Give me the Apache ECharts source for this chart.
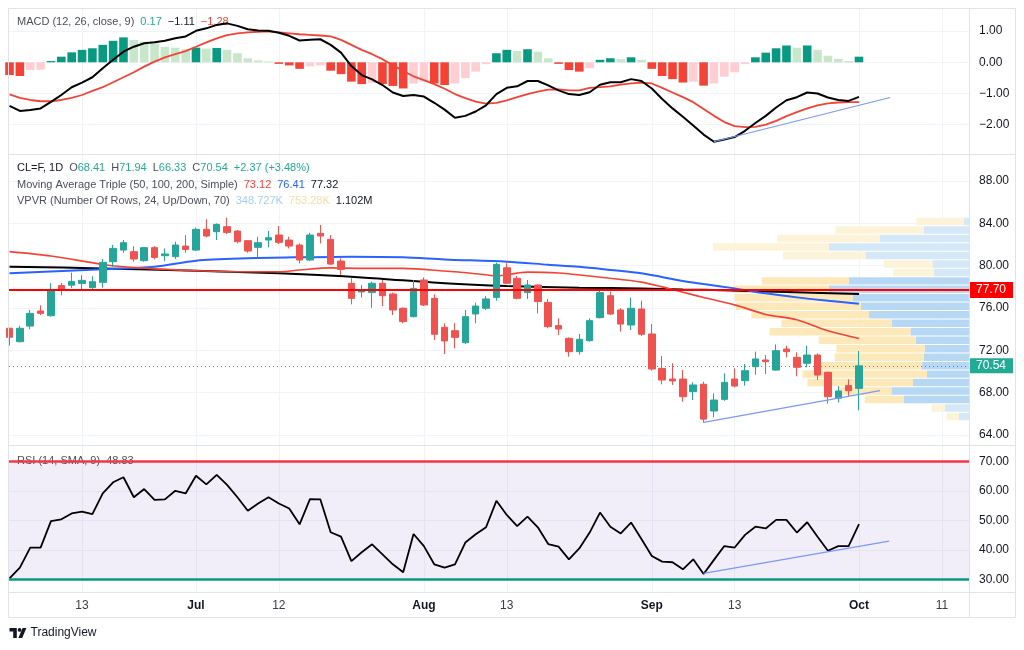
<!DOCTYPE html>
<html><head><meta charset="utf-8">
<script src="https://cdn.jsdelivr.net/npm/echarts@6/dist/echarts.min.js"></script>
<style>html,body{margin:0;padding:0;background:#fff}#c{width:1024px;height:650px}</style>
</head><body><div id="c"></div>
<script>
// ---------------- DATA ----------------
const dates = ['06-04','06-05','06-06','06-07','06-10','06-11','06-12','06-13','06-14','06-17','06-18','06-20','06-21','06-24','06-25','06-26','06-27','06-28',
'07-01','07-02','07-03','07-05','07-08','07-09','07-10','07-11','07-12','07-15','07-16','07-17','07-18','07-19','07-22','07-23','07-24','07-25','07-26','07-29','07-30','07-31',
'08-01','08-02','08-05','08-06','08-07','08-08','08-09','08-12','08-13','08-14','08-15','08-16','08-19','08-20','08-21','08-22','08-23','08-26','08-27','08-28','08-29','08-30',
'09-03','09-04','09-05','09-06','09-09','09-10','09-11','09-12','09-13','09-16','09-17','09-18','09-19','09-20','09-23','09-24','09-25','09-26','09-27','09-30','10-01'];
// [open, close, low, high]
const ohlc = [
[74.09,73.24,72.45,74.15],[72.82,74.09,72.76,74.34],[74.30,75.50,73.99,75.82],[75.72,75.50,75.34,76.26],[75.28,77.77,75.19,78.34],
[78.13,77.74,77.20,78.38],[78.16,78.52,77.90,79.34],[78.33,78.62,77.80,79.10],[77.93,78.49,77.75,79.00],[78.43,80.32,77.92,80.63],
[80.38,81.64,79.91,81.96],[81.48,82.18,81.23,82.43],[81.33,80.63,80.38,81.86],[80.48,81.71,80.38,81.74],[81.71,80.79,80.60,81.86],
[80.95,81.11,80.44,81.64],[80.86,81.96,80.63,82.27],[81.86,81.54,81.23,82.90],[81.48,83.44,81.39,83.60],[83.44,82.81,82.68,84.38],
[83.22,83.91,82.43,84.00],[83.69,83.15,83.00,84.54],[83.28,82.27,82.11,83.38],[82.37,81.39,81.23,82.43],[81.74,82.18,80.76,82.74],
[82.43,82.65,81.74,83.28],[82.90,82.21,82.05,83.75],[82.43,81.86,81.64,82.74],[81.96,80.54,80.22,82.11],[80.54,82.90,80.48,83.12],
[83.06,82.81,82.11,83.85],[82.49,80.16,80.07,82.90],[80.44,79.65,79.12,80.70],[78.34,76.92,76.35,78.81],[77.52,77.64,77.01,78.18],
[77.46,78.34,76.03,78.49],[78.34,77.17,76.19,78.65],[77.33,75.82,75.34,77.46],[75.98,74.72,74.56,76.07],[75.19,77.86,75.12,78.65],
[78.65,76.29,76.19,78.90],[76.92,73.52,72.98,77.30],[74.18,72.89,71.66,74.56],[73.86,73.23,72.19,74.56],[72.73,75.19,72.60,75.82],
[75.44,76.19,74.56,76.51],[75.98,76.86,75.82,77.14],[77.01,80.13,76.70,80.29],[79.81,78.34,78.28,80.23],[78.81,76.92,76.82,79.03],
[77.46,78.18,76.86,78.65],[78.18,76.61,75.50,78.24],[76.54,74.24,74.09,76.86],[74.34,74.02,73.45,75.03],[73.14,71.88,71.41,73.23],
[71.88,73.05,71.60,73.55],[72.92,74.81,72.82,75.03],[75.09,77.46,75.03,77.62],[77.17,75.44,75.34,77.55],[75.82,74.49,73.77,75.98],
[74.40,75.98,73.93,76.98],[75.91,73.52,73.36,76.70],[73.55,70.24,70.08,74.49],[70.30,69.20,68.79,71.47],[69.29,69.11,68.73,70.78],
[69.29,67.62,67.15,70.14],[68.10,68.73,67.31,68.98],[68.80,65.50,65.15,69.04],[66.27,67.31,65.67,67.94],[67.37,68.98,67.24,69.83],
[69.29,68.63,68.50,70.30],[69.14,70.08,68.67,70.71],[70.46,71.19,69.70,71.88],[71.09,70.93,69.77,71.56],[70.14,71.97,70.08,72.57],
[72.13,71.88,71.34,72.44],[71.34,70.40,69.55,71.82],[70.78,71.56,70.40,72.44],[71.56,69.67,69.20,71.72],[69.93,67.62,66.95,69.99],
[67.47,68.16,67.08,68.63],[68.67,68.19,67.62,69.26],[68.41,70.54,66.33,71.94]];

// moving averages, sampled [bar index, value]
const ma50 = [[0,81.33],[4,80.92],[9,80.12],[11,79.9],[14,79.7],[18,79.53],[23,79.43],[26,79.43],[28,79.6],[31,79.8],[34,79.75],[38,79.75],[42,79.5],[45,79.25],[47,79.05],[49,79.3],[50,79.4],[53,79.32],[56,79.03],[59,78.7],[61,78.45],[63,78.0],[65,77.5],[67,77.0],[70,76.3],[73,75.4],[76,74.9],[79,73.85],[82,73.12]];
const ma100 = [[0,79.28],[9,79.66],[14,79.91],[18,80.48],[23,80.70],[28,80.80],[33,80.86],[38,80.8],[42,80.6],[48,80.38],[52,80.1],[55,79.9],[58,79.6],[61,79.28],[65,78.55],[67,78.27],[70,77.86],[73,77.39],[76,77.01],[79,76.7],[82,76.41]];
const ma200 = [[0,79.91],[9,79.75],[18,79.53],[26,79.28],[34,78.9],[42,78.34],[48,78.08],[55,77.93],[61,77.85],[65,77.75],[67,77.72],[74,77.55],[82,77.32]];
const hLevel = 77.70;
const lastClose = 70.54;
const trendPrice = [[67,65.2],[84.03,68.19]];

// volume profile (24 rows, top -> bottom), thousands
const vpTop = 84.58, vpBottom = 65.35;
const vpUp   = [5.3,45.3,89.3,140,103.7,36.7,35.3,120.3,140.3,116.3,108,100,77,58.6,53.3,44.3,45.3,47,42,56,77.6,65,24.3,10];
const vpDown = [47.3,88.3,102.7,116,82.3,48.7,40.7,87,96,118,125,117.6,110.6,140.7,97,88.3,89,100.6,124.6,105.6,53.4,39.3,13.3,12.6];
const vpValueArea = [0,0,0,0,0,0,0,1,1,1,1,1,1,1,1,1,1,1,1,1,1,1,0,0];

// MACD
const macdLine = [-1.40,-1.56,-1.53,-1.48,-1.27,-1.05,-0.80,-0.65,-0.48,-0.19,0.08,0.34,0.50,0.61,0.64,0.69,0.77,0.83,1.01,1.09,
1.20,1.25,1.17,1.06,1.02,1.01,0.95,0.85,0.70,0.72,0.74,0.56,0.31,-0.12,-0.41,-0.55,-0.73,-0.97,-1.08,-1.05,
-1.10,-1.30,-1.52,-1.78,-1.72,-1.58,-1.38,-1.02,-0.82,-0.77,-0.60,-0.60,-0.74,-0.90,-1.02,-1.05,-0.96,-0.72,-0.64,-0.64,
-0.54,-0.60,-0.84,-1.18,-1.48,-1.75,-2.03,-2.32,-2.55,-2.48,-2.40,-2.20,-1.95,-1.72,-1.45,-1.22,-1.12,-0.97,-1.00,-1.13,
-1.21,-1.24,-1.11];
const signalLine = [-1.03,-1.14,-1.21,-1.25,-1.25,-1.21,-1.14,-1.05,-0.92,-0.80,-0.64,-0.48,-0.32,-0.14,0.02,0.16,0.26,0.36,0.50,0.64,
0.77,0.87,0.93,0.96,0.98,0.99,0.96,0.93,0.90,0.88,0.86,0.83,0.72,0.56,0.40,0.26,0.10,-0.09,-0.28,-0.45,
-0.57,-0.70,-0.85,-1.02,-1.15,-1.26,-1.33,-1.30,-1.22,-1.12,-1.02,-0.94,-0.88,-0.87,-0.90,-0.90,-0.82,-0.80,-0.77,-0.72,
-0.68,-0.65,-0.68,-0.82,-0.97,-1.12,-1.28,-1.50,-1.72,-1.92,-2.05,-2.08,-2.07,-2.00,-1.88,-1.73,-1.60,-1.48,-1.38,-1.32,
-1.29,-1.28,-1.28];
const macdHist = [-0.41,-0.44,-0.25,-0.24,0.04,0.18,0.32,0.40,0.45,0.56,0.69,0.80,0.72,0.66,0.61,0.50,0.47,0.42,0.47,0.44,
0.46,0.40,0.29,0.13,0.06,0.03,-0.05,-0.10,-0.21,-0.13,-0.10,-0.27,-0.38,-0.62,-0.70,-0.66,-0.70,-0.76,-0.84,-0.68,
-0.62,-0.68,-0.73,-0.68,-0.51,-0.30,-0.06,0.29,0.40,0.36,0.42,0.34,0.13,-0.05,-0.25,-0.30,-0.19,0.08,0.13,0.10,
0.16,0.08,-0.21,-0.44,-0.54,-0.65,-0.62,-0.75,-0.68,-0.46,-0.32,-0.06,0.16,0.31,0.45,0.54,0.47,0.54,0.40,0.21,
0.11,0.04,0.18];
const trendMacd = [[68,-2.55],[85.0,-1.13]];

// RSI
const rsi = [30.3,34.0,40.8,40.8,49.8,50.4,52.4,53.0,52.2,59.2,63.0,64.7,57.9,60.7,57.0,57.2,60.1,59.2,65.2,62.3,
65.5,62.1,57.9,53.3,55.8,57.9,55.8,54.1,48.7,57.3,57.2,46.0,44.5,36.2,39.2,41.9,38.5,35.1,32.4,45.4,
41.3,35.1,34.0,35.1,42.5,45.3,47.7,56.7,51.9,48.1,51.3,47.7,42.0,41.1,36.8,40.5,45.9,52.7,47.9,45.6,
49.3,43.7,37.9,36.0,35.8,33.4,36.8,31.8,36.6,41.3,40.8,45.1,47.9,47.3,50.2,50.2,45.9,49.4,44.5,39.7,
41.3,41.3,48.8];
const trendRsi = [[67,32.0],[84.9,43.0]];

// axis ticks
const tickIdx  = [7,18,26,40,48,62,70,82,90];
const tickText = ['13','Jul','12','Aug','13','Sep','13','Oct','11'];
const priceTicks = [64,68,72,76,80,84,88];
const macdTicks = [-2,-1,0,1];
const rsiTicks = [30,40,50,60,70];

// ---------------- CHART ----------------
const FONT = "'Liberation Sans', Arial, sans-serif";
const TXT = '#131722', GRID = '#f0f3fa', BORDER = '#e0e3eb';
const xMin = -0.05, xMax = 92.62;
const fmt = v => (v < 0 ? '\u2212' : '') + Math.abs(v).toFixed(2);

function xAxis(gi, labels) {
  return {
    type: 'value', gridIndex: gi, min: xMin, max: xMax,
    axisLine: {show: false},
    axisTick: {show: false, customValues: tickIdx},
    splitLine: {show: true, lineStyle: {color: GRID, width: 1}},
    axisLabel: labels ? {
      show: true, customValues: tickIdx, margin: 8,
      formatter: v => {
        const t = tickText[tickIdx.indexOf(Math.round(v))] || '';
        return /^[A-Z]/.test(t) ? '{m|' + t + '}' : '{d|' + t + '}';
      },
      rich: {
        m: {fontFamily: FONT, fontSize: 12, color: TXT, fontWeight: 'bold'},
        d: {fontFamily: FONT, fontSize: 12, color: '#3a3d47'}
      }
    } : {show: false}
  };
}
function yAxis(gi, min, max, ticks) {
  return {
    type: 'value', gridIndex: gi, position: 'right', min: min, max: max,
    axisLine: {show: false},
    axisTick: {show: false, customValues: ticks},
    splitLine: {show: true, lineStyle: {color: GRID, width: 1}},
    axisLabel: {customValues: ticks, formatter: fmt, margin: 10, color: TXT, fontSize: 12, fontFamily: FONT}
  };
}

const vpH = (vpTop - vpBottom) / vpUp.length;
const vpData = vpUp.map((u, k) => [k, u, vpDown[k], vpTop - k * vpH, vpTop - (k + 1) * vpH, vpValueArea[k]]);

const lg = (c, extra) => Object.assign({fontFamily: FONT, fontSize: 11, fill: c}, extra || {});
const gap = {padding: [0, 0, 0, 6]};

const option = {
  animation: false,
  backgroundColor: '#ffffff',
  grid: [
    {left: 9, top: 9, width: 960, height: 145, outerBoundsMode: 'none'},
    {left: 9, top: 155, width: 960, height: 290, outerBoundsMode: 'none'},
    {left: 9, top: 446, width: 960, height: 146, outerBoundsMode: 'none'}
  ],
  xAxis: [
    xAxis(0, false), xAxis(1, false), xAxis(2, true),
    {type: 'value', gridIndex: 1, inverse: true, min: 0, max: 960, show: false}
  ],
  yAxis: [
    yAxis(0, -2.944, 1.711, macdTicks),
    yAxis(1, 63.057, 90.467, priceTicks),
    yAxis(2, 25.68, 75.34, rsiTicks)
  ],
  series: [
    // MACD pane
    {type: 'bar', xAxisIndex: 0, yAxisIndex: 0, barWidth: 8.6,
     data: macdHist.map((v, i) => [i, v]),
     itemStyle: {color: p => {
       const i = p.dataIndex, v = macdHist[i], pv = i > 0 ? macdHist[i - 1] : Infinity;
       if (v >= 0) return v >= pv ? '#089981' : '#c8e6c9';
       return v < pv ? '#f44336' : '#ffcdd2';
     }}},
    {type: 'line', xAxisIndex: 0, yAxisIndex: 0, data: macdLine.map((v, i) => [i, v]), symbol: 'none',
     lineStyle: {color: '#000000', width: 2}, z: 4},
    {type: 'line', xAxisIndex: 0, yAxisIndex: 0, data: signalLine.map((v, i) => [i, v]), symbol: 'none',
     lineStyle: {color: '#f44336', width: 1.8}, z: 3},
    {type: 'line', xAxisIndex: 0, yAxisIndex: 0, data: trendMacd, symbol: 'none',
     lineStyle: {color: '#7b98f7', width: 1.2}, z: 5},
    // Price pane: volume profile
    {type: 'custom', xAxisIndex: 3, yAxisIndex: 1, data: vpData, z: 1, silent: true,
     encode: {x: 1, y: 3},
     renderItem: (params, api) => {
       const up = api.value(1), dn = api.value(2), pt = api.value(3), pb = api.value(4), va = api.value(5);
       const a = api.coord([0, pt]), b = api.coord([up, pb]), c = api.coord([up + dn, pb]);
       const y0 = a[1] + 0.5, h = b[1] - a[1] - 1;
       return {type: 'group', children: [
         {type: 'rect', shape: {x: b[0], y: y0, width: a[0] - b[0], height: h}, style: {fill: va ? '#b7d8f4' : '#d5e8f8'}},
         {type: 'rect', shape: {x: c[0], y: y0, width: b[0] - c[0], height: h}, style: {fill: va ? '#fce8b8' : '#fdf3d8'}}
       ]};
     }},
    {type: 'line', xAxisIndex: 1, yAxisIndex: 1, data: ma200, symbol: 'none', smooth: 0.3,
     lineStyle: {color: '#000000', width: 2}, z: 3},
    {type: 'line', xAxisIndex: 1, yAxisIndex: 1, data: ma100, symbol: 'none', smooth: 0.3,
     lineStyle: {color: '#2962ff', width: 2}, z: 3},
    {type: 'line', xAxisIndex: 1, yAxisIndex: 1, data: ma50, symbol: 'none', smooth: 0.3,
     lineStyle: {color: '#f44336', width: 1.6}, z: 3},
    {type: 'candlestick', xAxisIndex: 1, yAxisIndex: 1, barWidth: 7, z: 4,
     data: ohlc.map((d, i) => [i, d[0], d[1], d[2], d[3]]),
     encode: {x: 0, y: [1, 2, 3, 4]},
     itemStyle: {color: '#26a69a', color0: '#ef5350', borderColor: '#26a69a', borderColor0: '#ef5350', borderWidth: 1},
     markLine: {silent: true, symbol: 'none', animation: false,
       data: [
         {yAxis: hLevel, lineStyle: {color: '#ff0000', width: 2, type: 'solid'},
          label: {show: true, position: 'end', distance: 0, formatter: hLevel.toFixed(2), color: '#ffffff',
                  backgroundColor: '#ff0000', padding: [2, 7, 2, 7], fontSize: 12, lineHeight: 12, fontFamily: FONT}},
         {yAxis: lastClose, lineStyle: {color: '#22ab94', width: 1, type: [1, 3]},
          label: {show: true, position: 'end', distance: 0, formatter: lastClose.toFixed(2), color: '#ffffff',
                  backgroundColor: '#22ab94', padding: [2, 7, 1, 7], fontSize: 12, lineHeight: 12, fontFamily: FONT}}
       ]}},
    {type: 'line', xAxisIndex: 1, yAxisIndex: 1, data: trendPrice, symbol: 'none',
     lineStyle: {color: '#7b98f7', width: 1.2}, z: 5},
    // RSI pane
    {type: 'line', xAxisIndex: 2, yAxisIndex: 2, data: rsi.map((v, i) => [i, v]), symbol: 'none',
     lineStyle: {color: '#000000', width: 1.8}, z: 4,
     markArea: {silent: true, itemStyle: {color: 'rgba(126,87,194,0.10)'}, data: [[{yAxis: 30}, {yAxis: 70}]]},
     markLine: {silent: true, symbol: 'none', label: {show: false},
       data: [{yAxis: 70, lineStyle: {color: '#f23645', width: 2.5, type: 'solid'}},
              {yAxis: 30, lineStyle: {color: '#089981', width: 2.5, type: 'solid'}}]}},
    {type: 'line', xAxisIndex: 2, yAxisIndex: 2, data: trendRsi, symbol: 'none',
     lineStyle: {color: '#7b98f7', width: 1.2}, z: 5}
  ],
  graphic: [
    // legends
    {type: 'text', x: 17, y: 22, z: 1, style: {verticalAlign: 'middle',
      text: '{t|MACD (12, 26, close, 9)}{g|0.17}{k|\u22121.11}{r|\u22121.28}',
      rich: {t: lg('#4c4f5a'), g: lg('#22ab94', gap), k: lg('#131722', gap), r: lg('#f44336', gap)}}},
    {type: 'text', x: 17, y: 168, z: 1, style: {verticalAlign: 'middle',
      text: '{s|CL=F, 1D}{l|O}{v|68.41}{l|H}{v|71.94}{l|L}{v|66.33}{l|C}{v|70.54}{c|+2.37 (+3.48%)}',
      rich: {s: lg('#131722'), l: lg('#4c4f5a', gap), v: lg('#22ab94'), c: lg('#22ab94', gap)}}},
    {type: 'text', x: 17, y: 185, z: 1, style: {verticalAlign: 'middle',
      text: '{t|Moving Average Triple (50, 100, 200, Simple)}{a|73.12}{b|76.41}{c|77.32}',
      rich: {t: lg('#4c4f5a'), a: lg('#f44336', gap), b: lg('#2962ff', gap), c: lg('#131722', gap)}}},
    {type: 'text', x: 17, y: 201, z: 1, style: {verticalAlign: 'middle',
      text: '{t|VPVR (Number Of Rows, 24, Up/Down, 70)}{a|348.727K}{b|753.28K}{c|1.102M}',
      rich: {t: lg('#4c4f5a'), a: lg('#a8cdf1', gap), b: lg('#fbdca8', gap), c: lg('#131722', gap)}}},
    {type: 'text', x: 17, y: 461, z: 1, style: {verticalAlign: 'middle',
      text: '{t|RSI (14, SMA, 9)}{v|48.83}',
      rich: {t: lg('#4c4f5a'), v: lg('#4c4f5a', gap)}}},
    // frame and separators
    {type: 'rect', z: 20, silent: true, shape: {x: 8.5, y: 8.5, width: 1007, height: 609}, style: {fill: 'none', stroke: BORDER, lineWidth: 1}},
    {type: 'line', z: 20, silent: true, shape: {x1: 8.5, y1: 154.5, x2: 1015.5, y2: 154.5}, style: {stroke: BORDER, lineWidth: 1}},
    {type: 'line', z: 20, silent: true, shape: {x1: 8.5, y1: 445.5, x2: 1015.5, y2: 445.5}, style: {stroke: BORDER, lineWidth: 1}},
    {type: 'line', z: 20, silent: true, shape: {x1: 8.5, y1: 592.5, x2: 1015.5, y2: 592.5}, style: {stroke: BORDER, lineWidth: 1}},
    {type: 'line', z: 20, silent: true, shape: {x1: 969.5, y1: 8.5, x2: 969.5, y2: 617.5}, style: {stroke: BORDER, lineWidth: 1}},
    // TradingView logo
    {type: 'polygon', z: 20, silent: true, shape: {points: [[9.5,628],[16.8,628],[16.8,638],[13.2,638],[13.2,631.6],[9.5,631.6]]}, style: {fill: '#131722'}},
    {type: 'circle', z: 20, silent: true, shape: {cx: 19.6, cy: 629.9, r: 1.9}, style: {fill: '#131722'}},
    {type: 'polygon', z: 20, silent: true, shape: {points: [[22.6,628],[26.4,628],[22.2,638],[18.4,638]]}, style: {fill: '#131722'}},
    {type: 'text', z: 20, x: 30.5, y: 633, silent: true, style: {text: 'TradingView', fontFamily: FONT, fontSize: 12, fill: '#131722', verticalAlign: 'middle'}}
  ]
};

const chart = echarts.init(document.getElementById('c'), null, {renderer: 'canvas'});
chart.setOption(option);
</script>
</body></html>
